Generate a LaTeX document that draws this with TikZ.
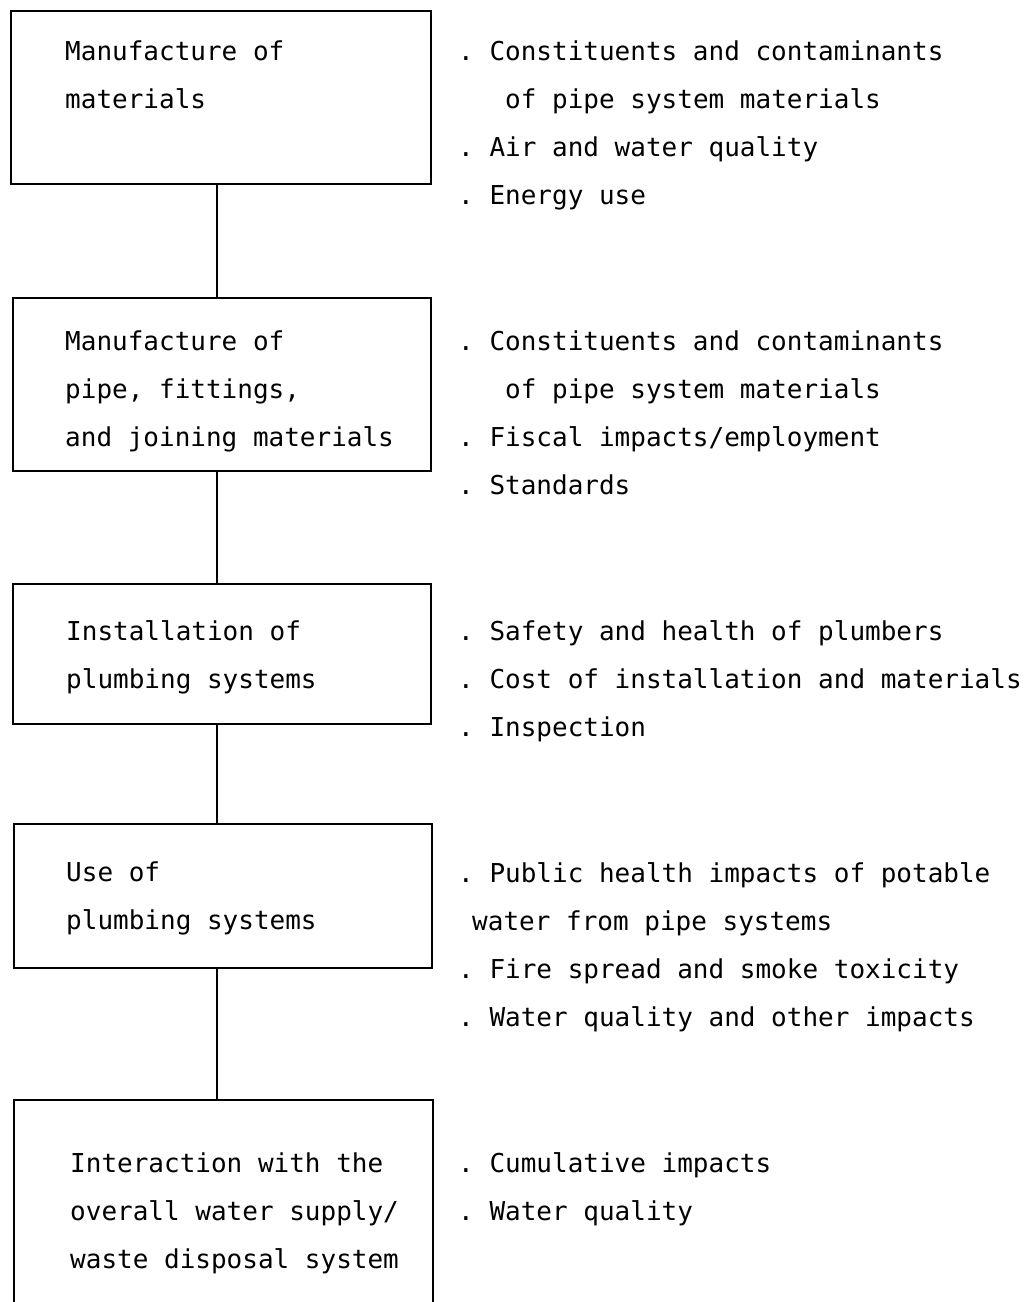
\documentclass[tikz,border=0pt]{standalone}
\usepackage{fontspec}
\setmonofont{DejaVu Sans Mono}
\usetikzlibrary{positioning}
\tikzset{
  stagebox/.style={draw, line width=2pt, rectangle, inner sep=0pt, anchor=north west},
  boxtext/.style={anchor=base west, inner sep=0pt, align=left, font=\ttfamily\fontsize{26}{48}\selectfont},
  impacts/.style={boxtext},
  link/.style={line width=2pt}
}
\begin{document}
\begin{tikzpicture}[x=1pt,y=-1pt]
  \useasboundingbox (0,0) rectangle (1033,1302);
  \clip (0,0) rectangle (1033,1302);
  % Stages
  \node[stagebox, minimum width=420pt, minimum height=173pt] (mat) at (10,10) {};
  \node[stagebox, minimum width=418pt, minimum height=173pt] (pipe) at (12,297) {};
  \node[stagebox, minimum width=418pt, minimum height=140pt] (inst) at (12,583) {};
  \node[stagebox, minimum width=418pt, minimum height=144pt] (use) at (13,823) {};
  \node[stagebox, minimum width=419pt, minimum height=240pt] (inter) at (13,1099) {};
  % Stage texts (placed at the baseline of the last line)
  \node[boxtext] (mattxt) at (65,108) {Manufacture of\\materials};
  \node[boxtext] (pipetxt) at (65,446) {Manufacture of\\pipe, fittings,\\and joining materials};
  \node[boxtext] (insttxt) at (66,688) {Installation of\\plumbing systems};
  \node[boxtext] (usetxt) at (66,929) {Use of\\plumbing systems};
  \node[boxtext] (intertxt) at (70,1268) {Interaction with the\\overall water supply/\\waste disposal system};
  % Links
  \coordinate (spine) at (217,0);
  \draw[link] (mat.south -| spine) -- (pipe.north -| spine);
  \draw[link] (pipe.south -| spine) -- (inst.north -| spine);
  \draw[link] (inst.south -| spine) -- (use.north -| spine);
  \draw[link] (use.south -| spine) -- (inter.north -| spine);
  % Impacts
  \node[impacts] (matlist) at (458,204) {. Constituents and contaminants\\\hspace*{47pt}of pipe system materials\\. Air and water quality\\. Energy use};
  \node[impacts] (pipelist) at (458,494) {. Constituents and contaminants\\\hspace*{47pt}of pipe system materials\\. Fiscal impacts/employment\\. Standards};
  \node[impacts] (instlist) at (458,736) {. Safety and health of plumbers\\. Cost of installation and materials\\. Inspection};
  \node[impacts] (uselist) at (458,1026) {. Public health impacts of potable\\\hspace*{14pt}water from pipe systems\\. Fire spread and smoke toxicity\\. Water quality and other impacts};
  \node[impacts] (interlist) at (458,1220) {. Cumulative impacts\\. Water quality};
\end{tikzpicture}
\end{document}
